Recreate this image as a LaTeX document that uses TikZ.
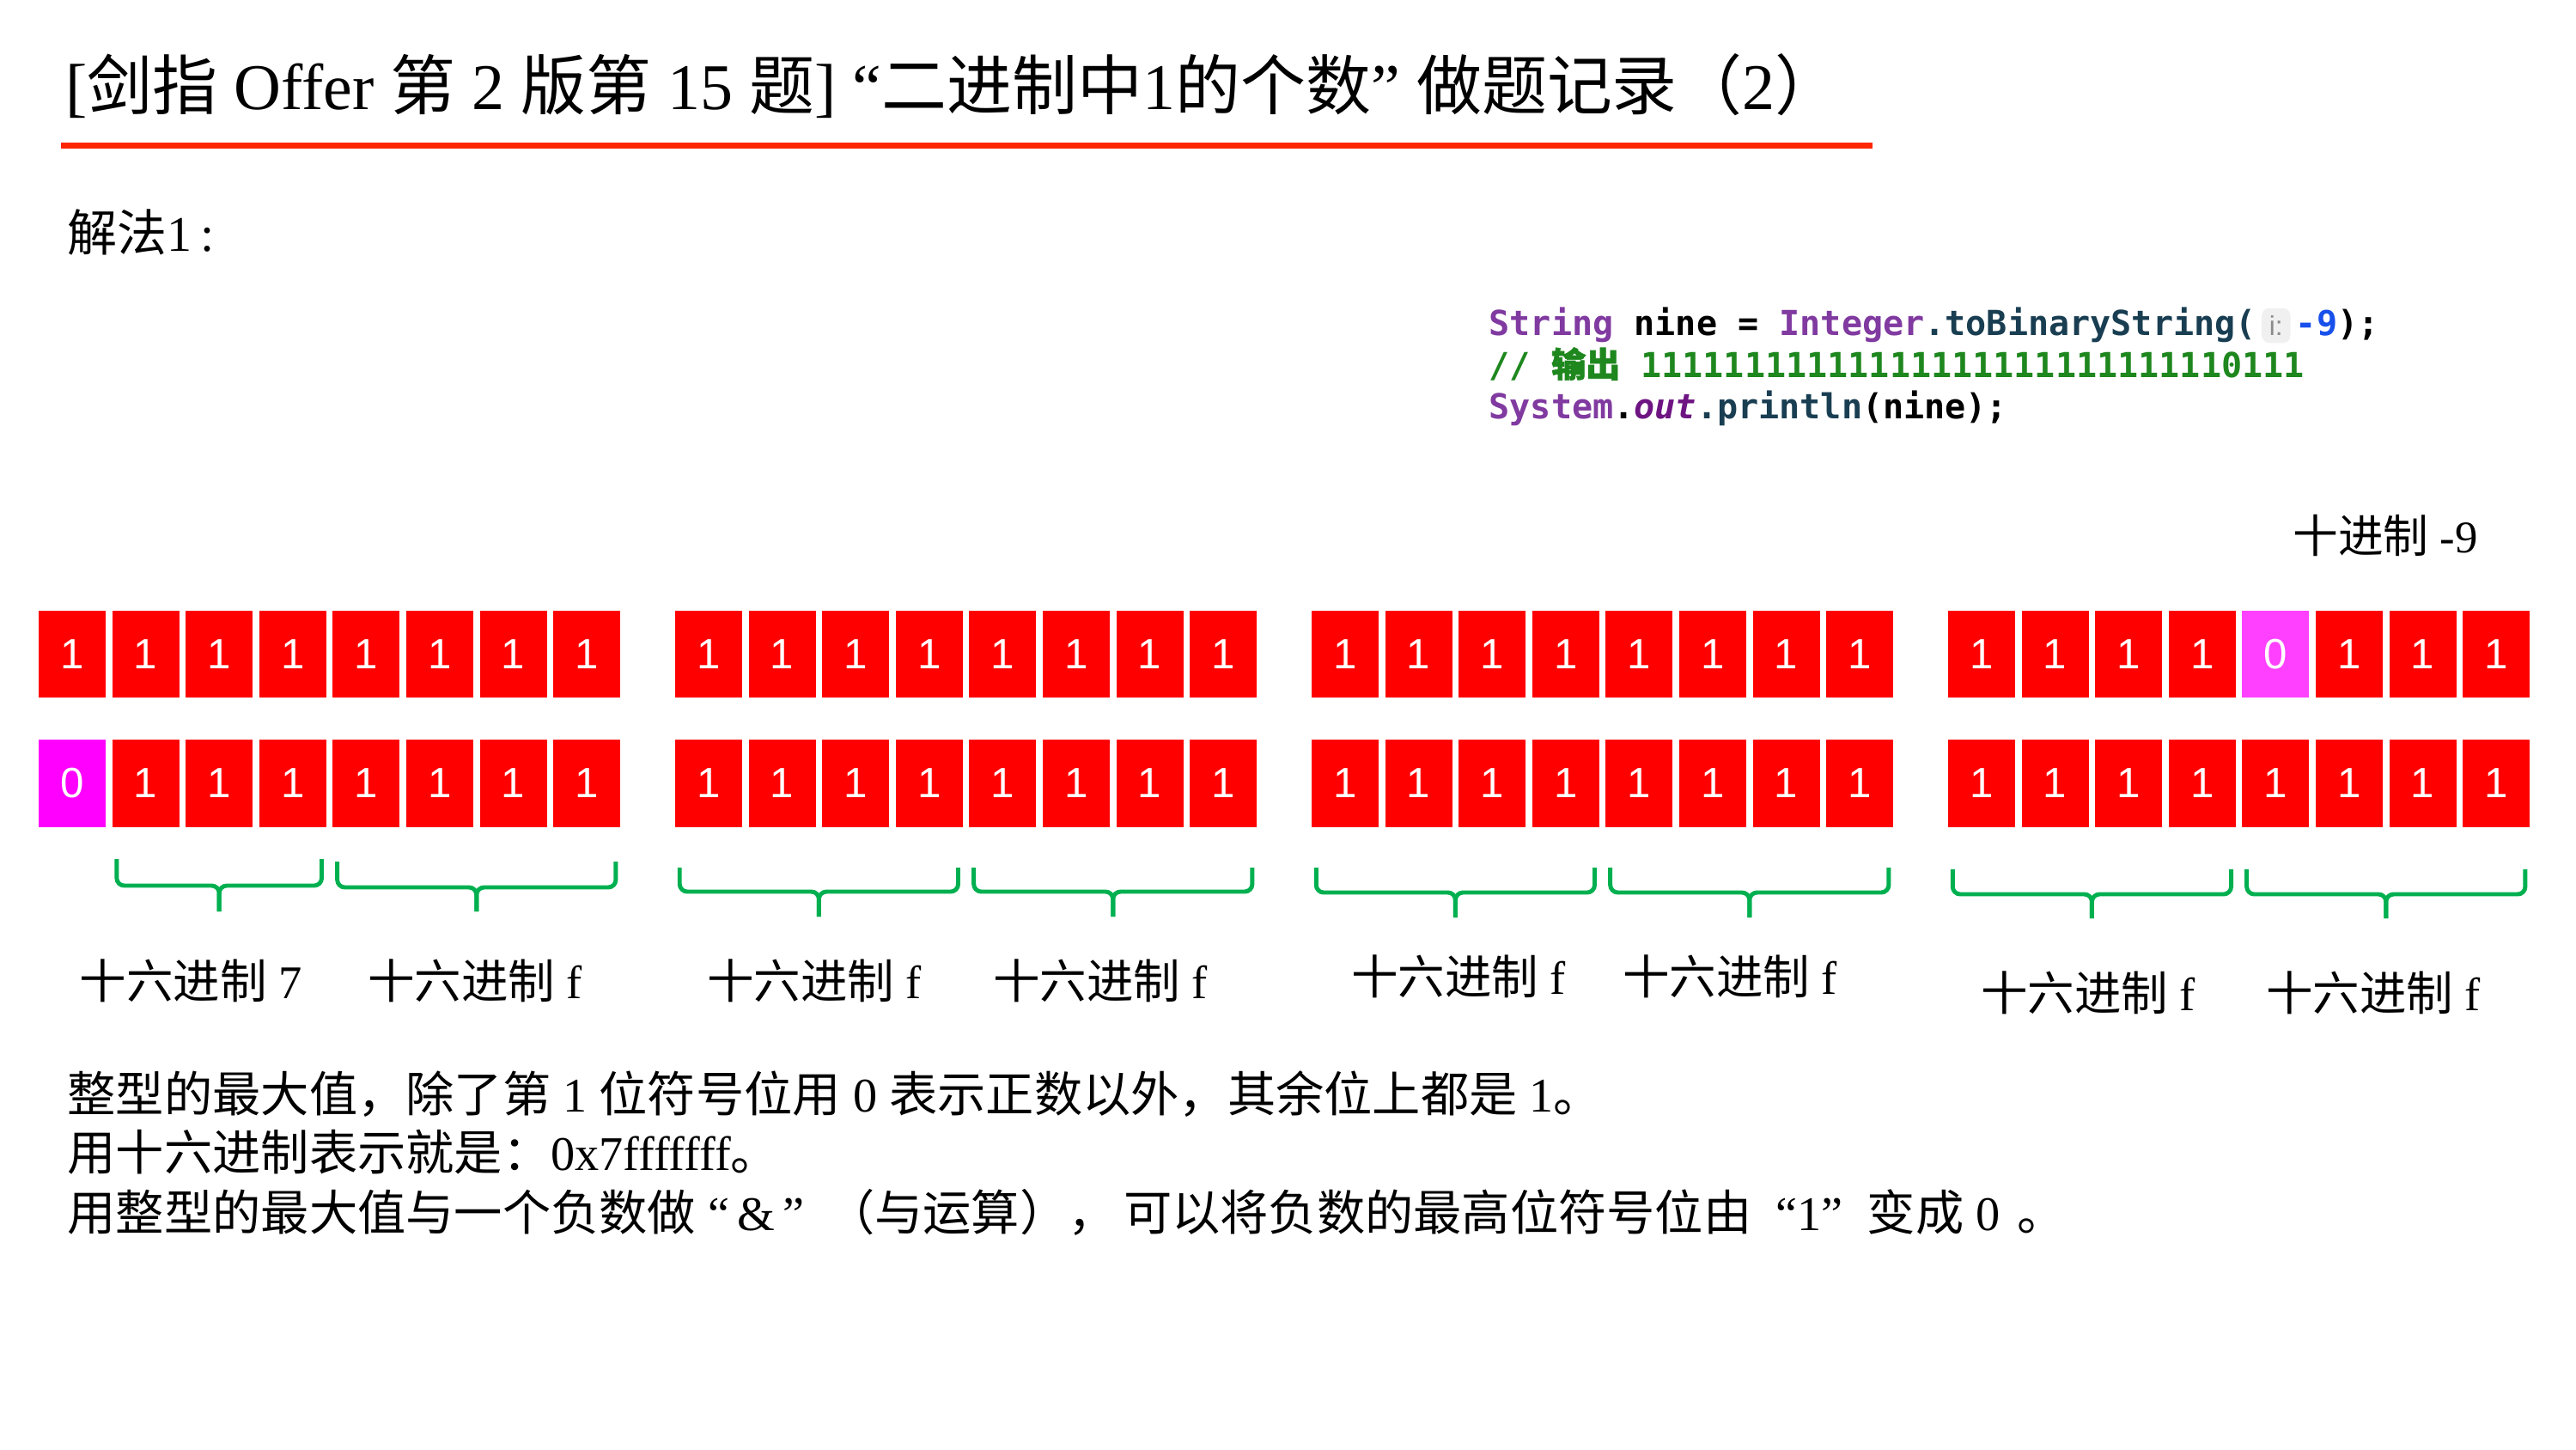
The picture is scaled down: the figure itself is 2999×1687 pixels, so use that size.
\documentclass[tikz,border=0pt]{standalone}
\usepackage{fontspec}
\setmainfont{Liberation Serif}
\setsansfont{Liberation Sans}
\setmonofont{DejaVu Sans Mono}
\newfontfamily\cjk{Noto Sans CJK SC}
\newfontfamily\cjkcode[FakeBold=1.5]{Noto Sans CJK SC}
\usetikzlibrary{calc,positioning}
\definecolor{bitred}{RGB}{255,0,0}
\definecolor{bitpink}{RGB}{255,0,255}
\definecolor{bitpinklight}{RGB}{255,64,255}
\definecolor{titlered}{RGB}{255,38,0}
\definecolor{bracegreen}{RGB}{0,176,80}
\definecolor{jpurple}{RGB}{128,58,160}
\definecolor{jdeep}{RGB}{110,20,130}
\definecolor{jmethod}{RGB}{25,62,82}
\definecolor{jgreen}{RGB}{30,135,30}
\definecolor{jblue}{RGB}{23,80,235}
\tikzset{
  bit/.style={fill=bitred, minimum width=0.78cm, minimum height=1.01cm, inner sep=0pt,
    text=white, font=\sffamily\fontsize{14}{14}\selectfont},
  hexbr/.style={draw=bracegreen, line width=1.4pt, rounded corners=2.5pt},
  hexlabel/.style={font=\fontsize{15.5}{16}\selectfont},
  body/.style={anchor=base west, inner sep=0pt, font=\fontsize{16}{18}\selectfont},
  code/.style={anchor=base west, inner sep=0pt, font=\ttfamily\bfseries\fontsize{11.4}{13}\selectfont},
  hint/.style={fill=black!6, rounded corners=2.5pt, inner sep=2.5pt, text=black!45,
    font=\sffamily\fontsize{9}{9}\selectfont}
}
% brace under a run of cells: left cell, right cell, top, bar, tip
\newcommand\hexbrace[5]{%
  \coordinate (bl) at ($(#1.west |- 0,#3)+(6,0)$);
  \coordinate (br) at ($(#2.east |- 0,#3)+(-6,0)$);
  \coordinate (bm) at ($(bl)!0.5!(br)$);
  \draw[hexbr] (bl) -- (bl |- 0,#4) -- (bm |- 0,#4) -- (bm |- 0,#5);
  \draw[hexbr] (br) -- (br |- 0,#4) -- (bm |- 0,#4) -- (bm |- 0,#5);
}
\begin{document}
\begin{tikzpicture}[x=0.01cm, y=-0.01cm]
  \useasboundingbox (0,0) rectangle (2999,1687);

  \node[anchor=base west, inner sep=0pt, font=\fontsize{21.6}{26}\selectfont] (title) at (76,127)
    {[{\cjk 剑指} Offer {\cjk 第} 2 {\cjk 版第} 15 {\cjk 题}] “{\cjk 二进制中}1{\cjk 的个数}” {\cjk 做题记录（}2{\cjk ）}};
  \draw[titlered, line width=2pt] (71,169.5) -- (2180,169.5);

  \node[anchor=base west, inner sep=0pt, font=\fontsize{16.5}{18}\selectfont] (method) at (78,292)
    {{\cjk 解法}1\,:};

  % java snippet
  \node[code] (code1a) at (1733,390)
    {\textcolor{jpurple}{String} nine = \textcolor{jpurple}{Integer}\textcolor{jmethod}{.toBinaryString(}};
  \node[hint, anchor=west] (hint) at ($(code1a.base east)+(5,-11)$) {i:};
  \node[code] (code1b) at ($(hint.east |- code1a.base)+(5,0)$) {\textcolor{jblue}{-9});};
  \node[code] (code2) at (1733,439)
    {\textcolor{jgreen}{// {\cjkcode 输出} 11111111111111111111111111110111}};
  \node[code] (code3) at (1733,487)
    {\textcolor{jpurple}{System}.\textcolor{jdeep}{\itshape out}\textcolor{jmethod}{.println}(nine);};

  \node[font=\fontsize{15}{18}\selectfont] (dec) at (2777,623) {{\cjk 十进制} -9};

  % bit cells, \tz / \bz = position of the 0 in the top / bottom row
  \foreach \g/\gx/\tz/\bz in {1/45/0/1, 2/786/0/0, 3/1527/0/0, 4/2268/5/0}{
    \foreach \i in {1,...,8}{
      \ifnum\i=\tz \def\tv{0}\def\tc{bitpinklight}\else\def\tv{1}\def\tc{bitred}\fi
      \ifnum\i=\bz \def\bv{0}\def\bc{bitpink}\else\def\bv{1}\def\bc{bitred}\fi
      \node[bit, fill=\tc] (t\g\i) at ({\gx+39+(\i-1)*85.6},761.5) {\tv};
      \node[bit, fill=\bc] (b\g\i) at ({\gx+39+(\i-1)*85.6},912) {\bv};
    }
  }

  \hexbrace{b12}{b14}{1000}{1031}{1061}
  \hexbrace{b15}{b18}{1003}{1033}{1061}
  \hexbrace{b21}{b24}{1010}{1038}{1067}
  \hexbrace{b25}{b28}{1010}{1038}{1067}
  \hexbrace{b31}{b34}{1010}{1039}{1068}
  \hexbrace{b35}{b38}{1010}{1039}{1068}
  \hexbrace{b41}{b44}{1012}{1041}{1069}
  \hexbrace{b45}{b48}{1012}{1041}{1069}

  \node[hexlabel] (hex1a) at (222,1142) {{\cjk 十六进制} 7};
  \node[hexlabel] (hex1b) at (553,1142) {{\cjk 十六进制} f};
  \node[hexlabel] (hex2a) at (948,1142) {{\cjk 十六进制} f};
  \node[hexlabel] (hex2b) at (1281,1142) {{\cjk 十六进制} f};
  \node[hexlabel] (hex3a) at (1698,1137) {{\cjk 十六进制} f};
  \node[hexlabel] (hex3b) at (2014,1137) {{\cjk 十六进制} f};
  \node[hexlabel] (hex4a) at (2431,1156) {{\cjk 十六进制} f};
  \node[hexlabel] (hex4b) at (2763,1156) {{\cjk 十六进制} f};

  \node[body] (note1) at (78,1294)
    {{\cjk 整型的最大值，除了第} 1 {\cjk 位符号位用} 0 {\cjk 表示正数以外，其余位上都是} 1{\cjk 。}};
  \node[body] (note2) at (78,1362)
    {{\cjk 用十六进制表示就是：}0x7fffffff{\cjk 。}};
  \node[body] (note3) at (78,1432)
    {{\cjk 用整型的最大值与一个负数做}\hspace{0.25em}“\,\&\,”\hspace{0.45em}{\cjk （与运算），}\hspace{0.15em}{\cjk 可以将负数的最高位符号位由}\hspace{0.5em}“1”\hspace{0.5em}{\cjk 变成}\hspace{0.25em}0\hspace{0.35em}{\cjk 。}};
\end{tikzpicture}
\end{document}
